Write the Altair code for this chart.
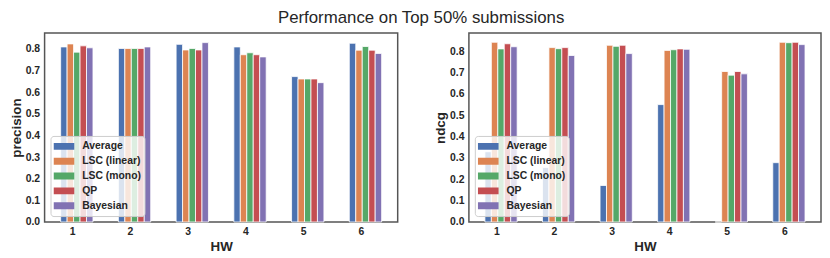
import altair as alt
import pandas as pd

hw = [1, 2, 3, 4, 5, 6]
series = ["Average", "LSC (linear)", "LSC (mono)", "QP", "Bayesian"]
colors = ["#4C72B0", "#DD8452", "#55A868", "#C44E52", "#8172B3"]

# precision values per series (HW1..HW6)
prec_average = [0.809, 0.802, 0.821, 0.809, 0.672, 0.826]
prec_lsc_linear = [0.823, 0.802, 0.795, 0.773, 0.661, 0.794]
prec_lsc_mono = [0.785, 0.802, 0.802, 0.782, 0.661, 0.811]
prec_qp = [0.814, 0.802, 0.795, 0.773, 0.661, 0.794]
prec_bayesian = [0.805, 0.809, 0.829, 0.763, 0.644, 0.779]

# ndcg values per series (HW1..HW6)
ndcg_average = [0.329, 0.255, 0.171, 0.550, 0.0, 0.278]
ndcg_lsc_linear = [0.842, 0.817, 0.828, 0.804, 0.705, 0.842]
ndcg_lsc_mono = [0.811, 0.812, 0.823, 0.807, 0.688, 0.840]
ndcg_qp = [0.835, 0.817, 0.828, 0.811, 0.705, 0.842]
ndcg_bayesian = [0.821, 0.780, 0.789, 0.809, 0.694, 0.831]

y_ticks = [0.0, 0.1, 0.2, 0.3, 0.4, 0.5, 0.6, 0.7, 0.8]

FONT = "Liberation Sans"
TXT = "#262626"


def make_df(lists):
    rows = []
    for si, (name, vals) in enumerate(zip(series, lists)):
        for h, v in zip(hw, vals):
            rows.append({"HW": h, "series": name, "idx": si, "value": v})
    return pd.DataFrame(rows)


prec_df = make_df([prec_average, prec_lsc_linear, prec_lsc_mono, prec_qp, prec_bayesian])
ndcg_df = make_df([ndcg_average, ndcg_lsc_linear, ndcg_lsc_mono, ndcg_qp, ndcg_bayesian])

BW = 0.112
SHIFT = 0.2


def panel(df, ytitle, ymax, width):
    return (
        alt.Chart(df)
        .transform_calculate(
            x1=f"datum.HW - {SHIFT} + datum.idx * {BW}",
            x2=f"datum.HW - {SHIFT} + (datum.idx + 1) * {BW}",
        )
        .mark_bar(stroke="white", strokeWidth=0.8)
        .encode(
            x=alt.X(
                "x1:Q",
                title="HW",
                scale=alt.Scale(domain=[0.522, 6.638], nice=False, zero=False),
                axis=alt.Axis(values=hw, format="d", labelAngle=0),
            ),
            x2="x2:Q",
            y=alt.Y(
                "value:Q",
                title=ytitle,
                scale=alt.Scale(domain=[0, ymax], nice=False),
                axis=alt.Axis(values=y_ticks, format=".1f"),
            ),
            y2=alt.datum(0),
            color=alt.Color(
                "series:N",
                scale=alt.Scale(domain=series, range=colors),
                sort=series,
                legend=alt.Legend(
                    title=None,
                    orient="bottom-left",
                    offset=6,
                    symbolType="M-1,-0.333H1V0.333H-1Z",
                    symbolSize=441,
                    symbolStrokeWidth=0,
                    symbolOpacity=1,
                    clipHeight=15,
                    rowPadding=0,
                    labelOffset=8,
                    labelFont=FONT,
                    labelFontSize=10.5,
                    labelFontWeight="bold",
                    labelColor=TXT,
                    padding=3,
                    fillColor="rgba(255,255,255,0.8)",
                    strokeColor="#cccccc",
                    cornerRadius=3,
                ),
            ),
        )
        .properties(width=width, height=191)
    )


left = panel(prec_df, "precision", 0.873, 357)
right = panel(ndcg_df, "ndcg", 0.885, 356)

chart = (
    alt.hconcat(left, right, spacing=34)
    .resolve_scale(color="independent", x="independent", y="independent")
    .resolve_legend(color="independent")
    .properties(
        title=alt.TitleParams(
            "Performance on Top 50% submissions",
            font=FONT,
            fontSize=17,
            fontWeight="normal",
            color=TXT,
            anchor="middle",
            offset=5,
            dx=6,
        ),
        padding={"left": 0, "top": 0, "right": 0, "bottom": 0},
    )
    .configure_view(stroke="#555555", strokeWidth=1.5)
    .configure_axis(
        grid=False,
        ticks=False,
        domain=False,
        labelFont=FONT,
        labelFontSize=10.5,
        labelFontWeight="bold",
        labelColor=TXT,
        labelPadding=5,
        titleFont=FONT,
        titleFontSize=13.5,
        titleFontWeight="bold",
        titleColor=TXT,
    )
    .configure_axisY(titlePadding=2)
    .configure_axisX(titlePadding=2)
)

chart.save("out.html", embed_options={"renderer": "svg", "actions": False})
